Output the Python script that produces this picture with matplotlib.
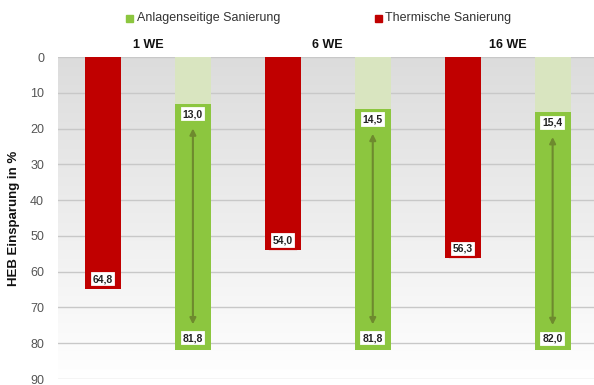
import matplotlib
matplotlib.use("Agg")
import matplotlib.pyplot as plt
import numpy as np
from matplotlib.colors import LinearSegmentedColormap

groups = ["1 WE", "6 WE", "16 WE"]
thermisch = [64.8, 54.0, 56.3]
anlagen_start = [13.0, 14.5, 15.4]
anlagen_end = [81.8, 81.8, 82.0]
yticks = [0, 10, 20, 30, 40, 50, 60, 70, 80, 90]

red = "#c00000"
green = "#8cc63f"
pale = "#d9e5c0"
arrow_c = "#6e8a2e"

plt.rcParams['font.family'] = ['Liberation Sans', 'DejaVu Sans']
fig = plt.figure(figsize=(5.94, 3.85), dpi=100)
ax = fig.add_axes([58/594, 1-379/385, 1-58/594, (379-57)/385])

grad = np.linspace(0, 1, 256).reshape(-1, 1)
cm = LinearSegmentedColormap.from_list("bg", ["#dcdcdc", "#ffffff"])
ax.imshow(grad, aspect="auto", cmap=cm, extent=[-0.5, 5.46, 90, 0], zorder=0)

for v in yticks:
    ax.axhline(v, color="#c8c8c8", lw=1, zorder=1)

w = 0.4
for i, g in enumerate(groups):
    xr = 2 * i
    xg = 2 * i + 1
    ax.bar(xr, thermisch[i], width=w, color=red, zorder=2)
    ax.bar(xg, anlagen_start[i], width=w, color=pale, zorder=2)
    ax.bar(xg, anlagen_end[i] - anlagen_start[i], bottom=anlagen_start[i], width=w, color=green, zorder=2)

    def lab(x, y, val, ec):
        ax.text(x, y, f"{val:.1f}".replace(".", ","), ha="center", va="center", fontsize=7.5,
                fontweight="bold", color="#222222", zorder=5,
                bbox=dict(boxstyle="square,pad=0.3", fc="white", ec=ec, lw=1.6))
    lab(xr, thermisch[i] - 2.7, thermisch[i], red)
    lab(xg, anlagen_start[i] + 3.0, anlagen_start[i], green)
    lab(xg, anlagen_end[i] - 3.2, anlagen_end[i], green)
    ax.annotate("", xy=(xg, anlagen_end[i] - 6.3), xytext=(xg, anlagen_start[i] + 6.2),
                arrowprops=dict(arrowstyle="<|-|>", color=arrow_c, lw=1.5, mutation_scale=9), zorder=4)
    ax.text((xr + xg) / 2, -1.8, g, ha="center", va="bottom", fontsize=9, fontweight="bold",
            color="#111111", clip_on=False)

ax.set_xlim(-0.5, 5.46)
ax.set_ylim(90, 0)
ax.set_yticks(yticks)
ax.set_yticklabels([str(t) for t in yticks], color="#555555", fontsize=9)
ax.set_xticks([])
ax.tick_params(axis="y", length=0, pad=10)
for s in ax.spines.values():
    s.set_visible(False)
ax.set_ylabel("HEB Einsparung in %", fontsize=9.5, fontweight="bold", color="#111111", labelpad=7)

fig.patches.append(plt.Rectangle((126/594, 1-22/385), 7/594, 7/385, transform=fig.transFigure, color=green))
fig.text(137/594, 1-18/385, "Anlagenseitige Sanierung", fontsize=9, va="center", ha="left", color="#333333")
fig.patches.append(plt.Rectangle((375/594, 1-22/385), 7/594, 7/385, transform=fig.transFigure, color=red))
fig.text(385/594, 1-18/385, "Thermische Sanierung", fontsize=9, va="center", ha="left", color="#333333")

fig.savefig("out.png", dpi=100)
